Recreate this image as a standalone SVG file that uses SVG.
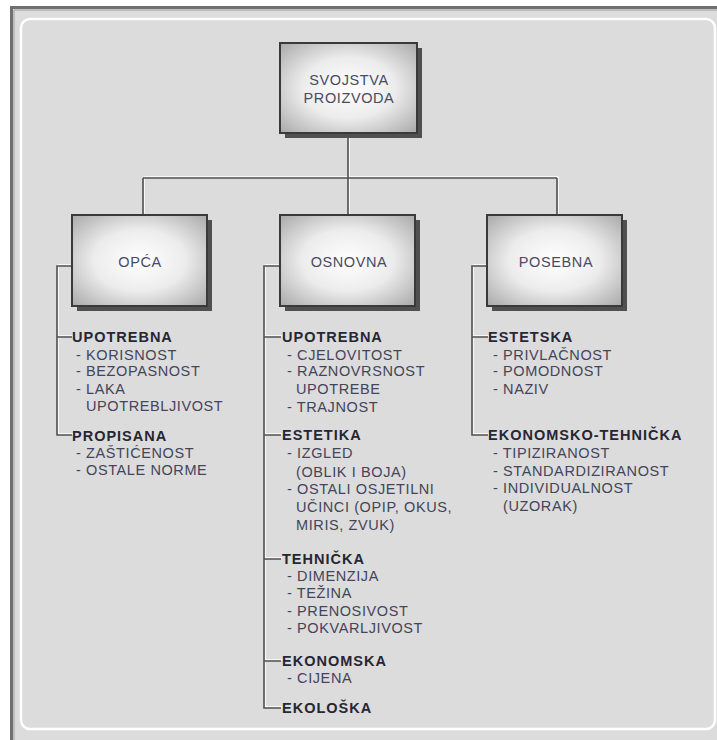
<svg xmlns="http://www.w3.org/2000/svg" width="717" height="740" viewBox="0 0 717 740">
<defs>
<radialGradient id="boxg" cx="50%" cy="50%" r="68%">
<stop offset="0" stop-color="#ffffff"/>
<stop offset="0.5" stop-color="#ececec"/>
<stop offset="1" stop-color="#adadad"/>
</radialGradient>
<style>
.shadow{fill:#505050}
.box{fill:url(#boxg);stroke:#3a3a3a;stroke-width:2}
.bl{font-family:"Liberation Sans",Arial,sans-serif;font-size:14.5px;letter-spacing:0.6px;fill:#4a4a62;text-anchor:middle}
.h{font-family:"Liberation Sans",Arial,sans-serif;font-size:14.5px;font-weight:bold;letter-spacing:1px;fill:#262634}
.i{font-family:"Liberation Sans",Arial,sans-serif;font-size:14.5px;letter-spacing:0.6px;fill:#44445a}
.ln{fill:none;stroke:#505050;stroke-width:1.6}
.hl{fill:none;stroke:#ffffff;stroke-width:1.2}
</style>
</defs>
<rect x="0" y="0" width="717" height="740" fill="#ffffff"/>
<g id="frame">
<rect x="11" y="7" width="720" height="740" fill="#dcdcdc"/>
<path d="M11.5 760 V7.5 H730" fill="none" stroke="#707070" stroke-width="3"/>
<path d="M14 760 V10 H730" fill="none" stroke="#a0a0a0" stroke-width="1"/>
<rect x="21" y="19" width="694" height="710" rx="9" fill="none" stroke="#ffffff" stroke-width="2.5"/>
</g>
<g id="connectors">
<g transform="translate(1.2,-1.2)" class="hl">
<path d="M348 133 V178 M143 178 H557 M143 178 V215 M348 178 V215 M557 178 V215"/>
<path d="M72 266 H57 V435 H72 M57 337 H72"/>
<path d="M280 266 H264 V708 H281 M264 337 H281 M264 435 H281 M264 559 H281 M264 661 H281"/>
<path d="M487 266 H472 V435 H488 M472 337 H488"/>
</g>
<g class="ln">
<path d="M348 133 V178 M143 178 H557 M143 178 V215 M348 178 V215 M557 178 V215"/>
<path d="M72 266 H57 V435 H72 M57 337 H72"/>
<path d="M280 266 H264 V708 H281 M264 337 H281 M264 435 H281 M264 559 H281 M264 661 H281"/>
<path d="M487 266 H472 V435 H488 M472 337 H488"/>
</g>
</g>
<g id="node-svojstva">
<rect class="shadow" x="285" y="48" width="137" height="90"/>
<rect class="box" x="280" y="43" width="137" height="90"/>
<text class="bl" x="349" y="85">SVOJSTVA</text>
<text class="bl" x="349" y="103">PROIZVODA</text>
</g>
<g id="node-opca">
<rect class="shadow" x="77" y="220" width="135" height="91"/>
<rect class="box" x="72" y="215" width="135" height="91"/>
<text class="bl" x="140" y="267">OPĆA</text>
</g>
<g id="node-osnovna">
<rect class="shadow" x="285" y="220" width="135" height="91"/>
<rect class="box" x="280" y="215" width="135" height="91"/>
<text class="bl" x="349" y="267">OSNOVNA</text>
</g>
<g id="node-posebna">
<rect class="shadow" x="492" y="220" width="135" height="91"/>
<rect class="box" x="487" y="215" width="135" height="91"/>
<text class="bl" x="556" y="267">POSEBNA</text>
</g>
<g id="list-opca">
<text class="h" x="72" y="342">UPOTREBNA</text>
<text class="i" x="76" y="360">- KORISNOST</text>
<text class="i" x="76" y="376">- BEZOPASNOST</text>
<text class="i" x="76" y="394">- LAKA</text>
<text class="i" x="86" y="411">UPOTREBLJIVOST</text>
<text class="h" x="72" y="441">PROPISANA</text>
<text class="i" x="76" y="458">- ZAŠTIĆENOST</text>
<text class="i" x="76" y="475">- OSTALE NORME</text>
</g>
<g id="list-osnovna">
<text class="h" x="282" y="342">UPOTREBNA</text>
<text class="i" x="287" y="360">- CJELOVITOST</text>
<text class="i" x="287" y="376">- RAZNOVRSNOST</text>
<text class="i" x="296" y="394">UPOTREBE</text>
<text class="i" x="287" y="412">- TRAJNOST</text>
<text class="h" x="282" y="440">ESTETIKA</text>
<text class="i" x="287" y="458">- IZGLED</text>
<text class="i" x="296" y="477">(OBLIK I BOJA)</text>
<text class="i" x="287" y="494">- OSTALI OSJETILNI</text>
<text class="i" x="296" y="512">UČINCI (OPIP, OKUS,</text>
<text class="i" x="296" y="530">MIRIS, ZVUK)</text>
<text class="h" x="282" y="564">TEHNIČKA</text>
<text class="i" x="287" y="581">- DIMENZIJA</text>
<text class="i" x="287" y="598">- TEŽINA</text>
<text class="i" x="287" y="616">- PRENOSIVOST</text>
<text class="i" x="287" y="633">- POKVARLJIVOST</text>
<text class="h" x="282" y="666">EKONOMSKA</text>
<text class="i" x="287" y="683">- CIJENA</text>
<text class="h" x="282" y="713">EKOLOŠKA</text>
</g>
<g id="list-posebna">
<text class="h" x="488" y="342">ESTETSKA</text>
<text class="i" x="493" y="360">- PRIVLAČNOST</text>
<text class="i" x="493" y="376">- POMODNOST</text>
<text class="i" x="493" y="394">- NAZIV</text>
<text class="h" x="488" y="440">EKONOMSKO-TEHNIČKA</text>
<text class="i" x="493" y="458">- TIPIZIRANOST</text>
<text class="i" x="493" y="476">- STANDARDIZIRANOST</text>
<text class="i" x="493" y="493">- INDIVIDUALNOST</text>
<text class="i" x="503" y="511">(UZORAK)</text>
</g>
</svg>
